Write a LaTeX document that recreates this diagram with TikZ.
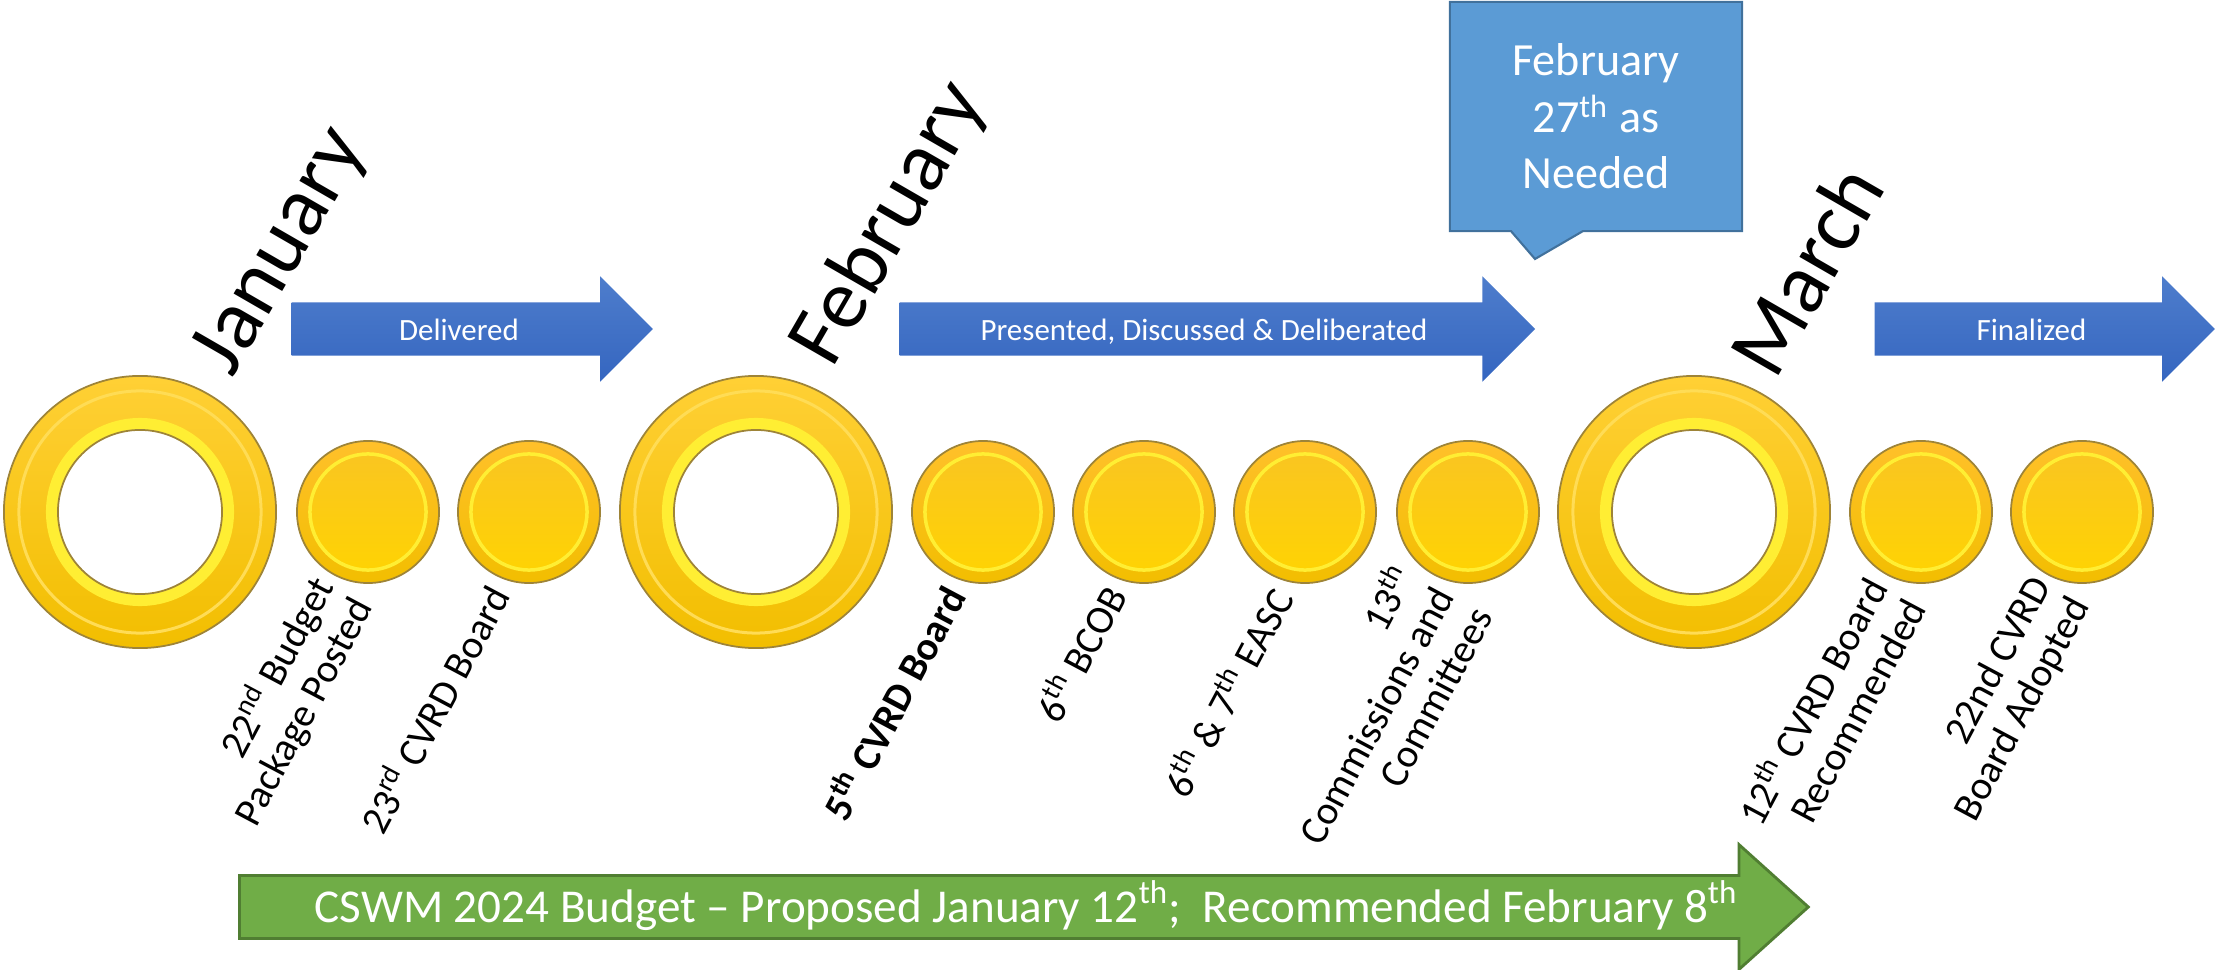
\documentclass[tikz,border=0pt]{standalone}
\usepackage{fontspec}
\setmainfont{Carlito}
\usetikzlibrary{shapes.arrows,shapes.callouts}
\definecolor{ringedge}{HTML}{9E8438}
\definecolor{goldtop}{HTML}{FFD035}
\definecolor{goldbot}{HTML}{F2BE00}
\definecolor{goldhi}{HTML}{FFEE33}
\definecolor{goldline}{HTML}{FFDC55}
\definecolor{facetop}{HTML}{F9C424}
\definecolor{facebot}{HTML}{FFD400}
\definecolor{arrowtop}{HTML}{4E7DCC}
\definecolor{arrowbot}{HTML}{3566C0}
\definecolor{notefill}{HTML}{5B9BD5}
\definecolor{noteline}{HTML}{41719C}
\definecolor{budgetfill}{HTML}{70AD47}
\definecolor{budgetline}{HTML}{507E32}
\tikzset{
  ring/.style={circle,inner sep=0,minimum size=2.72cm,top color=goldtop,bottom color=goldbot,draw=ringedge,line width=.5pt,
    path picture={
      \draw[goldline,line width=.03cm] (path picture bounding box.center) circle[radius=1.21cm];
      \draw[goldhi,line width=.12cm] (path picture bounding box.center) circle[radius=.88cm];
      \fill[white] (path picture bounding box.center) circle[radius=.82cm];
      \draw[ringedge,line width=.5pt] (path picture bounding box.center) circle[radius=.82cm];}},
  disc/.style={circle,inner sep=0,minimum size=1.42cm,top color=goldtop!80!orange,bottom color=goldbot,draw=ringedge,line width=.5pt,
    path picture={
      \shade[top color=facetop,bottom color=facebot] (path picture bounding box.center) circle[radius=.58cm];
      \draw[goldhi,line width=.035cm] (path picture bounding box.center) circle[radius=.58cm];}},
  month/.style={rotate=60,inner sep=0,font=\fontsize{24.3}{29}\selectfont},
  evt/.style={rotate=62,anchor=east,align=right,inner sep=0,font=\fontsize{11.4}{12.5}\selectfont},
  phase/.style={single arrow,single arrow head extend=.26cm,inner sep=0,text height=.37cm,text depth=.15cm,
    top color=arrowtop,bottom color=arrowbot,text=white,anchor=tail,font=\fontsize{8.8}{10}\selectfont},
}
\begin{document}
\begin{tikzpicture}[x=0.01cm,y=-0.01cm]
  \useasboundingbox (0,0) rectangle (2217,970);
  % months
  \foreach \n/\x in {jan/140,feb/756,mar/1694}
    \node[ring] (\n) at (\x,512) {};
  \foreach \n/\x in {d1/368,d2/529,d3/983,d4/1144,d5/1305,d6/1468,d7/1921,d8/2082}
    \node[disc] (\n) at (\x,512) {};
  \node[month] (tjan) at (282,252) {January};
  \node[month] (tfeb) at (890,224) {February};
  \node[month] (tmar) at (1806,270) {March};
  % events
  \node[evt] (e1) at ([shift={(-25,6)}]d1.south) {22\textsuperscript{nd} Budget\\Package Posted};
  \node[evt] (e2) at ([shift={(-32,4)}]d2.south) {23\textsuperscript{rd} CVRD Board};
  \node[evt] (e3) at ([shift={(-30,4)}]d3.south) {\textbf{5\textsuperscript{th} CVRD Board}};
  \node[evt] (e4) at ([shift={(-30,4)}]d4.south) {6\textsuperscript{th} BCOB};
  \node[evt] (e5) at ([shift={(-24,6)}]d5.south) {6\textsuperscript{th} \& 7\textsuperscript{th} EASC};
  \node[evt] (e6) at ([shift={(-27,4)}]d6.south) {13\textsuperscript{th}\\Commissions and\\Committees};
  \node[evt] (e7) at ([shift={(-27,6)}]d7.south) {12\textsuperscript{th} CVRD Board\\Recommended};
  \node[evt] (e8) at ([shift={(-20,6)}]d8.south) {22nd CVRD\\Board Adopted};
  % phases
  \node[phase,minimum height=3.61cm] (deliv) at (291,329) {Delivered};
  \node[phase,minimum height=6.35cm] (discuss) at (899,329) {Presented, Discussed \& Deliberated};
  \node[phase,minimum height=3.40cm] (final) at (1874,329) {Finalized};
  \node[rectangle callout,fill=notefill,draw=noteline,line width=.6pt,minimum width=2.92cm,minimum height=2.29cm,inner sep=0,
    callout absolute pointer={(1535,259)},callout pointer width=.72cm,align=center,text=white,
    font=\fontsize{13.1}{16.1}\selectfont] (note) at (1596,116.5) {February\\27\textsuperscript{th} as\\Needed};
  \node[single arrow,single arrow head extend=.31cm,single arrow tip angle=84,inner sep=0,text height=.45cm,text depth=.15cm,
    fill=budgetfill,draw=budgetline,line width=.8pt,text=white,anchor=tail,minimum height=15.68cm,
    font=\fontsize{13.4}{16}\selectfont] (budget) at (238,907)
    {\hspace*{.4cm}CSWM 2024 Budget -- Proposed January 12\textsuperscript{th};\ \ Recommended February 8\textsuperscript{th}};
\end{tikzpicture}
\end{document}
